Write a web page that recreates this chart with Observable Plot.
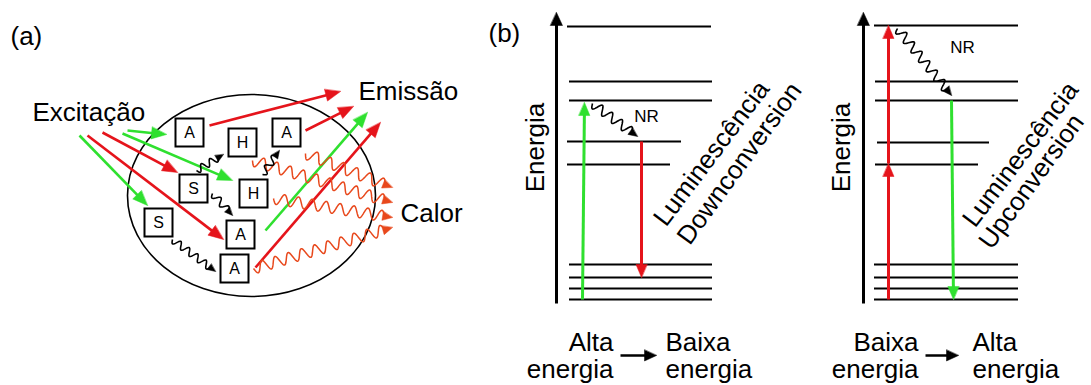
<!DOCTYPE html>
<html><head><meta charset="utf-8">
<script src="https://cdn.jsdelivr.net/npm/d3@7"></script>
<script src="https://cdn.jsdelivr.net/npm/@observablehq/plot@0.6"></script>
<style>
html,body{margin:0;padding:0;background:#fff;}
#chart svg{display:block;}
</style></head><body><div id="chart"></div>
<script>
// ---------- data ----------
// kinds of processes (mapped to colours by the colour scale)
const kinds = ["verde", "vermelho", "preto", "calor"];
const kindColors = ["#2fe02f", "#e5141b", "#000000", "#e8481c"];

// panel (a): particle ellipse
const particle = [{cx: 251, cy: 195, rx: 124, ry: 101}];

// panel (a): ions in boxes
const boxLabels = ["A", "H", "A", "S", "H", "S", "A", "A"];
const boxX = [189, 242, 286, 193, 253, 158, 240, 234];
const boxY = [132, 142, 132, 188, 193, 222, 234, 268];

// panel (a): straight excitation / emission arrows (start -> tip)
const beamArrows = [
  {x1: 127, y1: 130, x2: 166, y2: 134, kind: "verde"},
  {x1: 122, y1: 133, x2: 232, y2: 180, kind: "verde"},
  {x1: 79,  y1: 135, x2: 147, y2: 205, kind: "verde"},
  {x1: 102, y1: 132, x2: 177, y2: 172, kind: "vermelho"},
  {x1: 87,  y1: 135, x2: 223, y2: 239, kind: "vermelho"},
  {x1: 209, y1: 125, x2: 340, y2: 91,  kind: "vermelho"},
  {x1: 305, y1: 130, x2: 353, y2: 106, kind: "vermelho"},
  {x1: 265, y1: 230, x2: 367, y2: 112, kind: "verde"},
  {x1: 255, y1: 267, x2: 380, y2: 122, kind: "vermelho"}
];

// panel (a): wavy energy-transfer arrows
const transferWaves = [
  {x1: 196, y1: 170, x2: 223, y2: 154},
  {x1: 262, y1: 174, x2: 279, y2: 150},
  {x1: 212, y1: 193, x2: 232, y2: 215},
  {x1: 172, y1: 239, x2: 215, y2: 271}
];

// panel (a): wavy heat arrows
const heatWaves = [
  {x1: 305, y1: 153, x2: 392, y2: 187},
  {x1: 252, y1: 160, x2: 392, y2: 202},
  {x1: 273, y1: 198, x2: 392, y2: 217},
  {x1: 253, y1: 268, x2: 392, y2: 227}
];

// panel (b): energy levels (down-conversion / up-conversion)
const levelYDown  = [26, 81, 100, 141, 164, 264, 277, 288, 299];
const levelX1Down = [567, 569, 569, 567, 567, 569, 569, 569, 569];
const levelX2Down = [711, 712, 712, 681, 670, 712, 712, 712, 712];
const levelYUp  = [25, 81, 100, 142, 164, 264, 277, 288, 299];
const levelX1Up = [874, 875, 875, 877, 875, 874, 874, 874, 874];
const levelX2Up = [1018, 1018, 1018, 989, 978, 1018, 1018, 1018, 1018];

// panel (b): energy axes
const energyAxes = [
  {x1: 556, y1: 303, x2: 556, y2: 12, kind: "preto"},
  {x1: 863, y1: 303, x2: 863, y2: 12, kind: "preto"}
];

// panel (b): radiative transitions
const transitions = [
  {x1: 582, y1: 299, x2: 584, y2: 102, kind: "verde"},
  {x1: 641, y1: 141, x2: 641, y2: 277, kind: "vermelho"},
  {x1: 888, y1: 299, x2: 888, y2: 163, kind: "vermelho"},
  {x1: 888, y1: 163, x2: 888, y2: 25,  kind: "vermelho"},
  {x1: 951, y1: 100, x2: 953, y2: 299, kind: "verde"}
];

// panel (b): non-radiative (NR) relaxations
const nrWaves = [
  {x1: 592, y1: 103, x2: 637, y2: 136},
  {x1: 897, y1: 28,  x2: 951, y2: 95}
];

// panel (b): "high -> low" arrows under the diagrams
const bottomArrows = [
  {x1: 620, y1: 355, x2: 656, y2: 355, kind: "preto"},
  {x1: 925, y1: 355, x2: 958, y2: 355, kind: "preto"}
];

// text labels
const textsStart = [
  {t: "(a)", x: 10, y: 36.5, r: 0},
  {t: "(b)", x: 488, y: 33, r: 0},
  {t: "Excitação", x: 32, y: 111.7, r: 0},
  {t: "Emissão", x: 358, y: 90.7, r: 0},
  {t: "Calor", x: 400, y: 212.7, r: 0}
];
const stackedStart = [
  {t: "Baixa\nenergia", x: 665, y: 355.2},
  {t: "Alta\nenergia", x: 972, y: 355.2}
];
const stackedEnd = [
  {t: "Alta\nenergia", x: 613, y: 355.2},
  {t: "Baixa\nenergia", x: 918, y: 355.2}
];
const textsMiddle = [
  {t: "Energia", x: 535, y: 147, r: -90},
  {t: "Energia", x: 841, y: 147, r: -90},
  {t: "Luminescência", x: 711, y: 153, r: -53},
  {t: "Downconversion", x: 739, y: 163, r: -54},
  {t: "Luminescência", x: 1020, y: 154, r: -53},
  {t: "Upconversion", x: 1031, y: 181, r: -54}
];
const nrTexts = [
  {t: "NR", x: 646, y: 116},
  {t: "NR", x: 962, y: 47}
];

// ---------- helpers (geometry only) ----------
const boxes = boxLabels.map((l, i) => ({label: l, x: boxX[i], y: boxY[i]}));
const levels = [
  ...levelYDown.map((y, i) => ({y, x1: levelX1Down[i], x2: levelX2Down[i]})),
  ...levelYUp.map((y, i) => ({y, x1: levelX1Up[i], x2: levelX2Up[i]}))
];

function unit(d) {
  const dx = d.x2 - d.x1, dy = d.y2 - d.y1, L = Math.hypot(dx, dy);
  return [dx / L, dy / L, L];
}
// triangle arrowhead polygons at the tip of each arrow
function headPolys(list, len, wid, prefix, kind) {
  return list.flatMap((d, i) => {
    const [ux, uy] = unit(d);
    const bx = d.x2 - ux * len, by = d.y2 - uy * len;
    const nx = -uy * wid / 2, ny = ux * wid / 2;
    const k = kind || d.kind;
    const z = prefix + i;
    return [
      {x: d.x2, y: d.y2, z, kind: k},
      {x: bx + nx, y: by + ny, z, kind: k},
      {x: bx - nx, y: by - ny, z, kind: k}
    ];
  });
}
// shaft shortened so that it ends inside the arrowhead
function shaft(list, back) {
  return list.map((d) => {
    const [ux, uy] = unit(d);
    return {...d, x2: d.x2 - ux * back, y2: d.y2 - uy * back};
  });
}
// custom wave curve for Plot.link
function waveCurve(amp, wl) {
  return (context) => {
    let pts = [];
    return {
      lineStart() { pts = []; },
      point(x, y) { pts.push([+x, +y]); },
      lineEnd() {
        if (pts.length < 2) return;
        const [[x0, y0], [x1, y1]] = pts;
        const dx = x1 - x0, dy = y1 - y0, L = Math.hypot(dx, dy);
        const ux = dx / L, uy = dy / L, nx = -uy, ny = ux;
        const n = Math.max(0.5, Math.round((L / wl) * 2) / 2);
        context.moveTo(x0, y0);
        for (let s = 0.5; s < L; s += 0.5) {
          const o = amp * Math.sin((2 * Math.PI * s * n) / L);
          context.lineTo(x0 + ux * s + nx * o, y0 + uy * s + ny * o);
        }
        context.lineTo(x1, y1);
      },
      areaStart() {}, areaEnd() {}
    };
  };
}
// custom ellipse symbol for Plot.dot
function ellipseSymbol(rx, ry) {
  const k = 0.5522847;
  return {
    draw(ctx) {
      ctx.moveTo(rx, 0);
      ctx.bezierCurveTo(rx, ry * k, rx * k, ry, 0, ry);
      ctx.bezierCurveTo(-rx * k, ry, -rx, ry * k, -rx, 0);
      ctx.bezierCurveTo(-rx, -ry * k, -rx * k, -ry, 0, -ry);
      ctx.bezierCurveTo(rx * k, -ry, rx, -ry * k, rx, 0);
      ctx.closePath();
    }
  };
}

// head sizes [length, width]
const H_BEAM = [15, 12], H_TRANS = [13, 11], H_AXIS = [13, 12], H_BOTTOM = [12, 11];
const H_TRANSFER = [8, 7], H_NR = [9, 8], H_HEAT = [10, 9];

const allHeads = [
  ...headPolys(beamArrows, ...H_BEAM, "b"),
  ...headPolys(transitions, ...H_TRANS, "t"),
  ...headPolys(energyAxes, ...H_AXIS, "e"),
  ...headPolys(bottomArrows, ...H_BOTTOM, "o"),
  ...headPolys(transferWaves, ...H_TRANSFER, "w", "preto"),
  ...headPolys(nrWaves, ...H_NR, "n", "preto"),
  ...headPolys(heatWaves, ...H_HEAT, "h", "calor")
];

const lnk = {x1: "x1", y1: "y1", x2: "x2", y2: "y2"};
const p = particle[0];

const chart = Plot.plot({
  width: 1091,
  height: 385,
  margin: 0,
  x: {domain: [0, 1091], range: [0, 1091], axis: null},
  y: {domain: [0, 385], range: [0, 385], axis: null},
  color: {type: "ordinal", domain: kinds, range: kindColors},
  style: {fontFamily: "'Liberation Sans', Arial, sans-serif", background: "#fff", color: "#000", overflow: "visible"},
  marks: [
    // particle
    Plot.dot(particle, {x: "cx", y: "cy", symbol: ellipseSymbol(p.rx, p.ry), r: 10, stroke: "#000", strokeWidth: 1.6, fill: "none"}),
    // energy levels
    Plot.ruleY(levels, {y: "y", x1: "x1", x2: "x2", stroke: "#000", strokeWidth: 2}),
    // straight shafts
    Plot.link(shaft(beamArrows, H_BEAM[0] * 0.7), {...lnk, stroke: "kind", strokeWidth: 2.6}),
    Plot.link(shaft(transitions, H_TRANS[0] * 0.7), {...lnk, stroke: "kind", strokeWidth: 3}),
    Plot.link(shaft(energyAxes, H_AXIS[0] * 0.7), {...lnk, stroke: "kind", strokeWidth: 3}),
    Plot.link(shaft(bottomArrows, H_BOTTOM[0] * 0.7), {...lnk, stroke: "kind", strokeWidth: 2.5}),
    // wavy shafts
    Plot.link(shaft(heatWaves, H_HEAT[0] * 0.8), {...lnk, stroke: "#e8481c", strokeWidth: 1.5, curve: waveCurve(5.5, 14)}),
    Plot.link(shaft(transferWaves, H_TRANSFER[0] * 0.8), {...lnk, stroke: "#000", strokeWidth: 1.6, curve: waveCurve(3.5, 11)}),
    Plot.link(shaft(nrWaves, H_NR[0] * 0.8), {...lnk, stroke: "#000", strokeWidth: 1.6, curve: waveCurve(4.5, 12)}),
    // arrowheads
    Plot.line(allHeads, {x: "x", y: "y", z: "z", fill: "kind", stroke: "kind", strokeWidth: 0.5, curve: "linear-closed"}),
    // ions
    Plot.dot(boxes, {x: "x", y: "y", symbol: "square", r: 15.8, fill: "#fff", stroke: "#000", strokeWidth: 2}),
    Plot.text(boxes, {x: "x", y: "y", text: "label", fontSize: 16, lineAnchor: "middle", fill: "#000"}),
    // labels
    Plot.text(textsStart, {x: "x", y: "y", text: "t", rotate: "r", fontSize: 26, textAnchor: "start", lineAnchor: "middle", fill: "#000"}),
    Plot.text(stackedStart, {x: "x", y: "y", text: "t", fontSize: 26, lineHeight: 1.04, textAnchor: "start", lineAnchor: "middle", fill: "#000"}),
    Plot.text(stackedEnd, {x: "x", y: "y", text: "t", fontSize: 26, lineHeight: 1.04, textAnchor: "end", lineAnchor: "middle", fill: "#000"}),
    Plot.text(textsMiddle, {x: "x", y: "y", text: "t", rotate: "r", fontSize: 26, textAnchor: "middle", lineAnchor: "middle", fill: "#000"}),
    Plot.text(nrTexts, {x: "x", y: "y", text: "t", fontSize: 17, textAnchor: "middle", lineAnchor: "middle", fill: "#000"})
  ]
});
document.getElementById("chart").appendChild(chart);
</script>
</body></html>
